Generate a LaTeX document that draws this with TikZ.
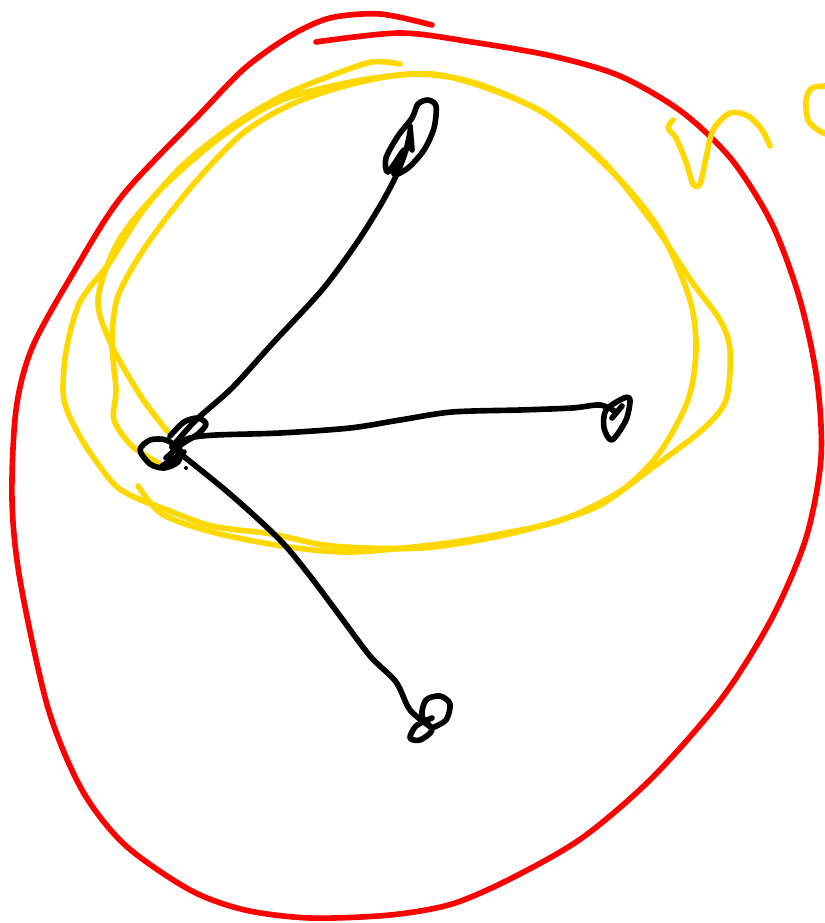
\documentclass[tikz,border=0pt]{standalone}
\definecolor{penred}{RGB}{255,0,0}
\definecolor{penyellow}{RGB}{255,216,0}
\tikzset{
  pen/.style={line width=4.8pt, line cap=round, line join=round},
  redpen/.style={pen, penred},
  yellowpen/.style={pen, penyellow},
  inkpen/.style={pen, black}
}
\begin{document}
\begin{tikzpicture}[x=0.03cm, y=-0.03cm]
\useasboundingbox (0,0) rectangle (825,923);

% ---------- hub and ends ----------
\coordinate (hub) at (172,447);
\coordinate (topend) at (410,132);
\coordinate (rightend) at (616,412);
\coordinate (bottomend) at (432,728);

% ---------- red ring ----------
\draw[redpen,smooth] plot coordinates {(432,25) (380,14) (330,18) (290,36) (245,68) (200,114)
  (122,196) (72,275) (32,348) (16,410) (12,500) (20,580) (48,708) (82,790) (125,845) (190,890)
  (245,910) (310,918) (390,915) (452,904) (512,878) (582,838) (652,778) (722,698) (772,618)
  (806,538) (821,458) (817,380) (800,300) (772,224) (732,160) (682,112) (620,76) (552,56)
  (472,42) (400,33) (316,42)};

% ---------- yellow loops ----------
\draw[yellowpen,smooth] plot coordinates {(400,64) (372,62) (330,76) (282,96) (232,126)
  (182,166) (142,212) (110,262) (80,302) (66,352) (64,400) (82,440) (112,482) (132,496)
  (162,508) (212,526) (272,534) (332,546) (422,548) (500,536) (560,520) (602,504) (652,468)
  (702,430) (726,400) (730,350) (720,320) (692,282) (652,222) (602,160) (542,112) (472,82)
  (412,74) (352,84) (292,104) (242,134) (192,186) (146,246) (118,296) (112,342) (116,390)
  (114,420) (132,446) (160,464)};
\draw[yellowpen,smooth] plot coordinates {(168,432) (142,398) (112,346) (98,300) (118,242)
  (160,190) (222,136) (282,100) (362,80) (432,74) (492,90) (552,118) (622,182) (662,234)
  (690,300) (696,350) (688,400) (660,452) (622,490) (562,520) (500,534) (440,544) (350,552)
  (282,546) (212,532) (162,514) (138,486)};
\draw[yellowpen,smooth] plot coordinates {(673,120) (668,128) (676,138) (686,162) (693,184)
  (700,184) (706,158) (713,130) (730,113) (748,116) (762,130) (770,146)};
\draw[yellowpen,smooth] plot coordinates {(826,86) (812,88) (806,100) (808,120) (818,130) (826,134)};

% ---------- spokes ----------
\draw[inkpen,smooth] plot coordinates {(hub) (196,420) (232,388) (272,344) (322,290)
  (356,244) (380,206) (396,176) (406,150) (topend)};
\draw[inkpen,smooth] plot coordinates {(hub) (190,438) (216,435) (280,433) (350,428)
  (400,420) (452,412) (520,410) (572,408) (600,405) (rightend)};
\draw[inkpen,smooth] plot coordinates {(hub) (230,494) (280,540) (310,576) (340,616)
  (370,656) (396,682) (410,710) (bottomend)};

% ---------- end loops ----------
\draw[inkpen,smooth cycle] plot coordinates {(404,150) (388,172) (386,158) (398,136)
  (412,118) (418,104) (428,100) (436,106) (434,128) (424,150) (408,168) (394,174)};
\draw[inkpen] (410,126) -- (412,150);
\draw[inkpen,smooth cycle] plot coordinates {(606,410) (624,398) (630,400) (626,420)
  (612,440) (604,428)};
\draw[inkpen] (612,418) -- (622,406);
\draw[inkpen,smooth] plot coordinates {(bottomend) (446,720) (450,704) (440,696) (426,700)
  (422,716) (432,730) (420,740) (410,738) (416,726) (432,718)};

% ---------- hub loops ----------
\draw[inkpen,smooth cycle] plot coordinates {(140,450) (150,440) (166,440) (180,450)
  (178,462) (164,468) (150,464)};
\draw[inkpen,smooth] plot coordinates {(170,436) (184,422) (198,418) (206,424) (198,434)
  (182,444) (166,458)};
\draw[inkpen] (162,466) -- (184,452);
\fill (186,468) circle (2);
\end{tikzpicture}
\end{document}
